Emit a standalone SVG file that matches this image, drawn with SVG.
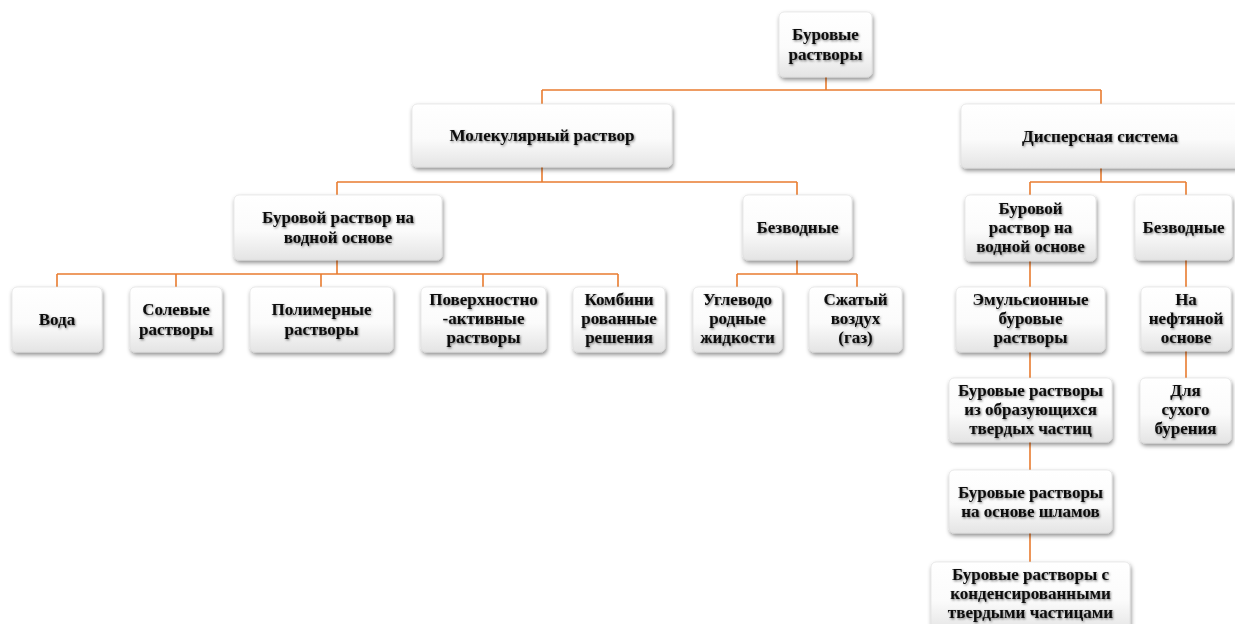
<svg xmlns="http://www.w3.org/2000/svg" width="1235" height="624" viewBox="0 0 1235 624">
<defs>
<linearGradient id="g" x1="0" y1="0" x2="0" y2="1">
<stop offset="0" stop-color="#ffffff"/>
<stop offset="0.55" stop-color="#fbfbfb"/>
<stop offset="1" stop-color="#e4e4e4"/>
</linearGradient>
<filter id="bs" x="-10%" y="-10%" width="125%" height="130%">
<feDropShadow dx="1" dy="2.5" stdDeviation="2" flood-color="#000" flood-opacity="0.45"/>
</filter>
<filter id="ts" x="-5%" y="-20%" width="115%" height="150%">
<feDropShadow dx="1" dy="1.2" stdDeviation="0.9" flood-color="#000" flood-opacity="0.5"/>
</filter>
</defs>
<style>
.b{fill:url(#g);stroke:#dcdcdc;stroke-width:0.6;filter:url(#bs)}
.t{font-family:"Liberation Serif","Times New Roman",serif;font-weight:bold;font-size:17px;fill:#0a0a0a;text-anchor:middle;filter:url(#ts)}
.c{fill:none;stroke:#E97C30;stroke-width:1.6}
</style>
<rect width="1235" height="624" fill="#fff"/>
<g id="connectors" class="c">
<path d="M826,77V90M542,90H1101M542,90V104M1101,90V104"/>
<path d="M542,167V182M337,182H797M337,182V195M797,182V195"/>
<path d="M337,260V274M57,274H618M57,274V287M176,274V287M321,274V287M483,274V287M618,274V287"/>
<path d="M797,260V274M737,274H857M737,274V287M857,274V287"/>
<path d="M1101,168V182M1030,182H1186M1030,182V195M1186,182V195"/>
<path d="M1030,261V287M1030,352V378M1030,442V470M1030,533V562"/>
<path d="M1186,260V287M1186,351V378"/>
</g>
<g id="n-root"><rect class="b" x="779" y="12" width="93" height="65" rx="5"/><text class="t" x="825.5" y="40">Буровые</text><text class="t" x="825.5" y="60">растворы</text></g>
<g id="n-mol"><rect class="b" x="412" y="104" width="260" height="63" rx="5"/><text class="t" x="542" y="141">Молекулярный раствор</text></g>
<g id="n-disp"><rect class="b" x="961" y="104" width="280" height="64" rx="5"/><text class="t" x="1100" y="141.5">Дисперсная система</text></g>
<g id="n-water1"><rect class="b" x="234" y="195" width="208" height="65" rx="5"/><text class="t" x="338" y="223">Буровой раствор на</text><text class="t" x="338" y="243">водной основе</text></g>
<g id="n-anh1"><rect class="b" x="743" y="195" width="109" height="65" rx="5"/><text class="t" x="797.5" y="233">Безводные</text></g>
<g id="n-voda"><rect class="b" x="12" y="287" width="90" height="65" rx="5"/><text class="t" x="57" y="325">Вода</text></g>
<g id="n-sol"><rect class="b" x="130" y="287" width="92" height="65" rx="5"/><text class="t" x="176" y="315">Солевые</text><text class="t" x="176" y="335">растворы</text></g>
<g id="n-pol"><rect class="b" x="250" y="287" width="143" height="65" rx="5"/><text class="t" x="321.5" y="315">Полимерные</text><text class="t" x="321.5" y="335">растворы</text></g>
<g id="n-pav"><rect class="b" x="421" y="287" width="125" height="65" rx="5"/><text class="t" x="483.5" y="305">Поверхностно</text><text class="t" x="483.5" y="324">-активные</text><text class="t" x="483.5" y="343">растворы</text></g>
<g id="n-komb"><rect class="b" x="573" y="287" width="92" height="65" rx="5"/><text class="t" x="619" y="305">Комбини</text><text class="t" x="619" y="324">рованные</text><text class="t" x="619" y="343">решения</text></g>
<g id="n-ugl"><rect class="b" x="693" y="287" width="89" height="65" rx="5"/><text class="t" x="737.5" y="305">Углеводо</text><text class="t" x="737.5" y="324">родные</text><text class="t" x="737.5" y="343">жидкости</text></g>
<g id="n-air"><rect class="b" x="809" y="287" width="93" height="65" rx="5"/><text class="t" x="855.5" y="305">Сжатый</text><text class="t" x="855.5" y="324">воздух</text><text class="t" x="855.5" y="343">(газ)</text></g>
<g id="n-water2"><rect class="b" x="965" y="195" width="131" height="66" rx="5"/><text class="t" x="1030.5" y="214">Буровой</text><text class="t" x="1030.5" y="233">раствор на</text><text class="t" x="1030.5" y="252">водной основе</text></g>
<g id="n-anh2"><rect class="b" x="1135" y="195" width="97" height="65" rx="5"/><text class="t" x="1183.5" y="233">Безводные</text></g>
<g id="n-emul"><rect class="b" x="956" y="287" width="149" height="65" rx="5"/><text class="t" x="1030.5" y="305">Эмульсионные</text><text class="t" x="1030.5" y="324">буровые</text><text class="t" x="1030.5" y="343">растворы</text></g>
<g id="n-obr"><rect class="b" x="949" y="378" width="163" height="64" rx="5"/><text class="t" x="1030.5" y="396">Буровые растворы</text><text class="t" x="1030.5" y="415">из образующихся</text><text class="t" x="1030.5" y="434">твердых частиц</text></g>
<g id="n-shl"><rect class="b" x="949" y="470" width="163" height="63" rx="5"/><text class="t" x="1030.5" y="498">Буровые растворы</text><text class="t" x="1030.5" y="517">на основе шламов</text></g>
<g id="n-kond"><rect class="b" x="931" y="562" width="199" height="70" rx="5"/><text class="t" x="1030.5" y="580">Буровые растворы с</text><text class="t" x="1030.5" y="599">конденсированными</text><text class="t" x="1030.5" y="618">твердыми частицами</text></g>
<g id="n-neft"><rect class="b" x="1141" y="287" width="90" height="64" rx="5"/><text class="t" x="1186" y="305">На</text><text class="t" x="1186" y="324">нефтяной</text><text class="t" x="1186" y="343">основе</text></g>
<g id="n-dry"><rect class="b" x="1140" y="378" width="91" height="65" rx="5"/><text class="t" x="1185.5" y="396">Для</text><text class="t" x="1185.5" y="415">сухого</text><text class="t" x="1185.5" y="434">бурения</text></g>
</svg>
